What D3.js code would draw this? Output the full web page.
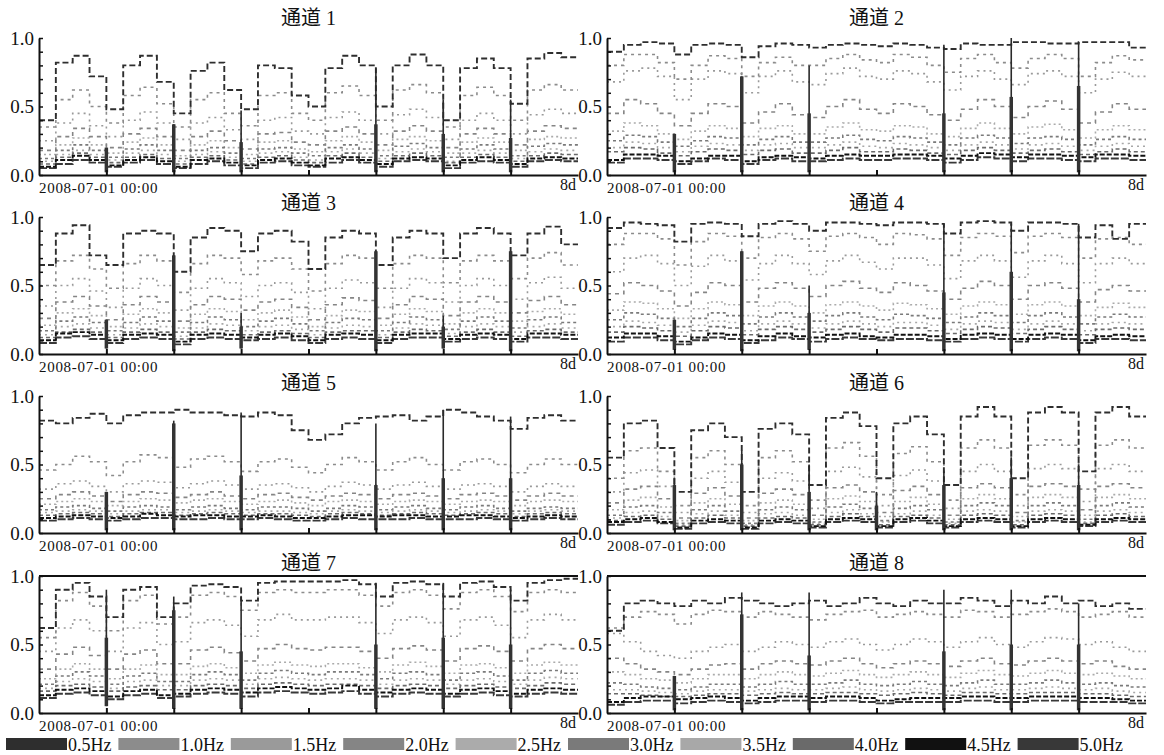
<!DOCTYPE html>
<html>
<head>
<meta charset="utf-8">
<script src="https://cdn.jsdelivr.net/npm/d3@7"></script>
<style>
  body { margin: 0; background: #fff; }
  svg text { font-family: "Liberation Serif", "Noto Sans CJK SC", serif; fill: #111; }
</style>
</head>
<body>
<svg id="chart" width="1164" height="755"></svg>
<script>
// --- data (values in hundredths, 4 samples per day, 8 days) ---
const days = 8
const perDay = 4
const freqs = ["0.5Hz", "1.0Hz", "1.5Hz", "2.0Hz", "2.5Hz", "3.0Hz", "3.5Hz", "4.0Hz", "4.5Hz", "5.0Hz"]
const titles = ["通道 1", "通道 2", "通道 3", "通道 4", "通道 5", "通道 6", "通道 7", "通道 8"]
const startLabel = "2008-07-01 00:00"
const endLabel = "8d"
const yTicks = [0, 0.1, 0.2, 0.3, 0.4, 0.5, 0.6, 0.7, 0.8, 0.9, 1.0]
const yLabels = [0, 0.5, 1.0]
const dayTicks = [1, 2, 3, 4, 5, 6, 7]

const ch1 = [
  [40,82,87,72, 48,80,87,68, 45,76,82,62, 48,80,78,58, 50,78,87,80, 50,80,88,80, 40,78,85,78, 52,85,89,86],
  [35,55,62,50, 38,58,64,52, 35,55,60,45, 36,58,60,45, 40,60,65,58, 40,62,66,60, 35,58,64,58, 40,62,66,62],
  [25,38,45,36, 28,40,46,38, 26,38,42,33, 26,40,42,32, 30,42,46,40, 30,44,48,42, 26,40,45,40, 30,44,48,45],
  [18,28,34,28, 20,30,34,28, 18,28,32,25, 19,30,31,24, 22,32,35,30, 22,32,36,32, 20,30,34,30, 22,32,36,34],
  [15,22,27,22, 16,24,27,22, 14,22,25,20, 15,24,25,19, 17,25,28,24, 18,26,28,25, 16,24,27,24, 18,26,28,27],
  [12,18,22,18, 13,19,22,18, 12,18,20,16, 12,19,20,16, 14,20,22,19, 14,21,23,20, 13,19,22,19, 14,21,23,22],
  [10,15,18,15, 11,16,18,15, 10,15,17,13, 10,16,17,13, 11,17,19,16, 12,17,19,17, 10,16,18,16, 12,17,19,18],
  [8,13,16,13, 9,13,15,12, 8,13,14,11, 8,13,14,11, 9,14,16,13, 10,14,16,14, 9,13,15,13, 10,14,16,15],
  [6,11,14,11, 7,11,13,10, 6,11,12,9, 7,11,12,9, 7,12,13,11, 8,12,13,12, 7,11,13,11, 8,12,13,12],
  [5,8,11,9, 6,9,11,8, 5,8,10,7, 5,9,10,7, 6,9,11,9, 6,10,11,10, 5,9,10,9, 6,10,11,10]
]
const ch2 = [
  [90,95,97,96, 88,95,96,95, 86,94,96,95, 93,95,96,95, 94,96,95,93, 92,96,95,95, 97,97,96,96, 97,97,97,93],
  [80,88,88,82, 70,80,87,85, 72,82,86,80, 80,85,88,84, 82,88,86,80, 75,85,88,82, 78,85,88,85, 72,82,87,84],
  [68,76,78,72, 55,70,76,74, 60,72,76,68, 66,74,78,72, 70,76,74,68, 62,72,76,70, 66,74,76,72, 60,70,75,72],
  [45,55,52,45, 36,45,52,50, 38,46,52,44, 42,50,55,48, 45,52,50,44, 40,48,55,50, 42,50,54,48, 38,46,52,48],
  [32,38,36,30, 26,32,36,34, 28,34,36,30, 30,35,38,33, 32,36,35,30, 28,34,38,34, 30,35,37,33, 27,33,36,33],
  [25,29,28,24, 21,25,28,27, 22,26,28,24, 24,27,29,26, 25,28,27,24, 22,27,29,27, 23,27,28,26, 22,26,28,26],
  [20,24,23,20, 17,21,23,22, 18,22,23,20, 20,22,24,21, 20,23,22,20, 18,22,24,22, 19,22,23,21, 18,21,23,21],
  [17,20,19,16, 14,17,19,18, 15,18,19,16, 16,18,20,17, 17,19,18,16, 15,18,20,18, 16,18,19,17, 15,17,19,17],
  [11,15,15,14, 10,12,14,14, 10,13,14,13, 12,14,15,14, 14,15,15,14, 12,14,16,15, 13,15,15,14, 13,15,15,14],
  [9,12,12,11, 8,10,12,11, 8,11,12,10, 10,11,12,11, 11,12,12,11, 9,11,13,12, 10,12,12,11, 10,12,12,11]
]
const ch3 = [
  [65,88,94,72, 65,88,90,88, 60,85,92,90, 75,88,90,82, 62,85,90,88, 65,85,90,88, 70,88,92,88, 72,88,93,80],
  [50,68,72,62, 48,66,72,68, 45,66,72,70, 58,68,70,62, 46,66,72,70, 48,66,72,70, 52,68,72,68, 55,70,74,65],
  [35,50,55,46, 34,48,55,50, 32,48,55,52, 42,50,52,45, 33,48,54,52, 34,48,55,52, 38,50,55,50, 40,52,56,48],
  [26,38,42,35, 25,36,42,38, 24,36,42,40, 32,38,40,34, 25,36,41,39, 26,36,42,40, 28,38,42,38, 30,39,42,36],
  [21,30,33,28, 20,29,33,30, 19,29,33,31, 25,30,32,27, 20,28,32,31, 21,29,33,31, 22,30,33,30, 24,31,33,29],
  [17,24,27,23, 17,23,27,24, 16,23,27,25, 20,24,26,22, 17,23,26,25, 17,23,27,25, 18,24,27,24, 19,25,27,23],
  [14,20,22,19, 14,19,22,20, 13,19,22,21, 17,20,21,18, 14,19,21,20, 14,19,22,21, 15,20,22,20, 16,20,22,19],
  [12,16,18,16, 12,16,18,16, 11,16,18,17, 14,16,17,15, 12,16,17,17, 12,16,18,17, 13,16,18,16, 13,17,18,16],
  [10,15,16,14, 10,14,15,14, 9,14,15,14, 12,14,15,13, 10,14,15,14, 10,14,15,15, 11,14,15,14, 11,15,15,14],
  [8,12,13,11, 8,11,12,11, 7,11,12,11, 10,11,12,10, 8,11,12,11, 8,11,12,12, 9,11,12,11, 9,12,12,11]
]
const ch4 = [
  [92,96,95,94, 82,95,96,95, 86,95,97,95, 90,96,96,95, 94,96,96,95, 88,96,97,96, 90,96,96,95, 85,94,84,95],
  [80,88,88,84, 65,82,88,86, 70,85,88,84, 75,86,88,85, 80,88,87,84, 72,85,88,86, 74,86,88,85, 70,84,85,80],
  [60,70,72,66, 50,64,72,68, 54,66,72,66, 58,68,72,67, 62,70,70,65, 55,68,72,68, 56,68,72,66, 52,66,70,66],
  [44,52,50,46, 35,45,52,50, 38,48,52,48, 42,50,53,48, 45,52,50,46, 40,48,53,50, 40,50,52,48, 38,47,50,46],
  [32,38,37,33, 26,33,38,36, 28,35,38,35, 30,36,38,35, 32,37,36,33, 29,35,38,36, 29,36,38,35, 28,34,37,34],
  [25,30,29,26, 20,26,30,28, 22,27,30,27, 24,28,30,27, 25,29,28,26, 23,27,30,28, 23,28,30,27, 22,27,29,27],
  [20,24,23,21, 16,21,24,23, 17,22,24,22, 19,22,24,22, 20,23,23,21, 18,22,24,23, 18,22,24,22, 17,22,23,22],
  [16,20,19,17, 13,17,20,19, 14,18,20,18, 16,18,20,18, 16,19,19,17, 15,18,20,19, 15,18,20,18, 14,18,19,18],
  [12,15,15,13, 9,12,15,14, 10,13,15,13, 12,14,15,13, 12,14,14,13, 11,14,15,14, 11,14,15,14, 10,13,14,13],
  [9,12,12,10, 7,10,12,11, 8,10,12,11, 9,11,12,11, 10,11,11,10, 9,11,12,11, 9,11,12,11, 8,11,11,10]
]
const ch5 = [
  [82,80,84,87, 80,86,88,88, 90,88,88,86, 85,88,86,75, 68,72,80,84, 85,86,82,85, 90,88,85,82, 76,84,86,82],
  [46,50,56,52, 42,52,57,55, 48,54,56,52, 45,52,54,48, 44,50,55,52, 46,52,55,50, 46,52,54,50, 44,50,54,50],
  [32,36,38,34, 30,36,38,37, 33,36,38,35, 32,35,36,33, 30,34,37,35, 32,35,37,34, 32,35,36,34, 30,34,36,34],
  [25,28,30,27, 23,28,30,29, 26,28,30,27, 25,28,29,26, 24,27,29,28, 25,28,29,27, 25,28,29,27, 24,27,29,27],
  [21,23,25,23, 20,23,25,24, 22,24,25,23, 21,23,24,22, 20,23,24,23, 21,23,24,23, 21,23,24,23, 20,23,24,23],
  [17,19,20,18, 16,19,20,19, 17,19,20,18, 17,19,19,18, 16,18,20,19, 17,19,20,18, 17,19,20,18, 16,18,19,18],
  [15,16,17,16, 14,16,17,17, 15,16,17,16, 15,16,16,15, 14,16,17,16, 15,16,17,16, 15,16,17,16, 14,16,17,16],
  [13,14,15,14, 12,14,15,15, 13,14,15,14, 13,14,14,13, 12,14,15,14, 13,14,15,14, 13,14,15,14, 12,14,15,14],
  [11,12,13,12, 11,12,14,13, 12,13,13,12, 12,13,12,11, 11,12,13,13, 12,13,13,12, 12,13,13,12, 11,12,13,12],
  [9,10,11,10, 9,10,11,11, 10,10,11,10, 10,11,10,9, 9,10,11,10, 10,10,11,10, 10,10,11,10, 9,10,11,10]
]
const ch6 = [
  [55,80,82,62, 30,75,80,70, 30,76,80,72, 35,84,88,78, 40,80,85,72, 35,85,92,85, 40,88,92,88, 45,88,92,85],
  [40,60,62,45, 20,55,60,50, 20,55,60,52, 24,62,66,56, 28,58,63,52, 24,62,68,62, 28,64,68,64, 32,64,68,62],
  [30,44,46,34, 15,40,45,37, 15,40,44,38, 18,45,48,41, 20,42,46,38, 18,45,50,45, 20,47,50,47, 23,47,50,45],
  [22,32,34,25, 11,29,33,27, 11,29,32,28, 13,33,35,30, 15,31,34,28, 13,33,36,33, 15,34,36,34, 17,34,36,33],
  [17,24,26,19, 9,22,25,21, 9,22,24,21, 10,25,27,23, 12,23,26,21, 10,25,28,25, 12,26,28,26, 13,26,28,25],
  [13,19,20,15, 7,17,20,16, 7,17,19,17, 8,19,21,18, 9,18,20,17, 8,20,22,20, 9,20,22,20, 10,20,22,19],
  [11,15,16,12, 6,14,16,13, 6,14,15,13, 7,15,17,14, 8,14,16,13, 7,16,17,16, 8,16,17,16, 8,16,17,15],
  [9,12,13,10, 5,11,13,11, 5,11,12,11, 6,12,14,12, 6,12,13,11, 6,13,14,13, 6,13,14,13, 7,13,14,12],
  [8,10,11,8, 4,9,10,9, 4,9,10,9, 5,10,11,10, 5,10,11,9, 5,10,11,10, 5,10,11,10, 6,10,11,10],
  [6,8,9,7, 3,7,8,7, 3,7,8,7, 4,8,9,8, 4,8,9,7, 4,8,9,8, 4,8,9,8, 5,8,9,8]
]
const ch7 = [
  [62,90,95,85, 70,90,92,70, 80,93,94,92, 82,95,96,96, 96,96,97,94, 85,95,96,94, 85,95,96,92, 82,95,97,98],
  [55,82,88,78, 60,82,86,65, 70,86,88,85, 75,88,90,88, 88,90,90,86, 78,88,90,86, 76,88,90,85, 74,88,90,88],
  [45,62,68,60, 45,62,66,50, 52,66,68,64, 56,68,72,68, 68,70,70,66, 58,68,70,66, 56,68,70,64, 55,68,72,68],
  [32,43,48,42, 32,43,46,36, 36,46,48,44, 38,47,50,47, 46,48,48,45, 40,47,49,46, 38,47,49,45, 38,47,50,47],
  [25,32,36,32, 25,32,35,28, 28,34,36,33, 29,35,37,35, 34,36,36,33, 30,35,37,34, 29,35,36,33, 29,35,37,35],
  [21,27,30,27, 21,27,29,23, 23,28,30,28, 24,29,31,29, 28,30,30,28, 25,29,30,28, 24,29,30,27, 24,29,31,29],
  [18,23,25,23, 18,23,24,20, 20,24,25,24, 21,25,26,25, 24,25,25,24, 21,24,25,24, 21,24,25,23, 21,24,26,25],
  [16,20,21,19, 16,19,20,17, 17,20,21,20, 18,21,22,21, 20,21,21,20, 18,20,21,20, 18,20,21,19, 18,20,22,21],
  [13,17,18,16, 12,16,17,13, 14,17,18,17, 15,18,19,18, 17,18,20,17, 15,17,18,17, 14,17,18,16, 14,17,18,17],
  [11,14,15,13, 10,13,14,11, 12,14,15,14, 12,15,16,15, 14,15,16,14, 12,14,15,14, 12,14,15,13, 12,14,15,14]
]
const ch8 = [
  [60,80,82,80, 78,82,80,84, 82,80,78,80, 82,78,80,84, 80,78,82,80, 80,84,82,78, 82,80,85,80, 82,78,80,76],
  [62,70,74,72, 65,72,75,74, 70,74,72,70, 68,72,74,75, 70,72,74,72, 70,75,74,70, 72,74,76,74, 70,72,74,70],
  [58,52,45,42, 40,45,48,50, 45,48,52,50, 48,52,54,50, 46,50,54,52, 48,52,55,50, 48,52,55,54, 50,52,48,45],
  [40,36,32,30, 28,32,35,36, 32,36,38,36, 35,38,40,36, 33,36,38,36, 34,38,40,36, 35,38,40,38, 36,38,34,32],
  [30,28,25,24, 22,25,28,28, 25,28,30,28, 27,29,31,28, 26,28,30,28, 26,29,31,28, 27,29,31,29, 28,29,27,25],
  [22,21,19,18, 17,19,21,21, 19,21,23,21, 21,22,24,21, 20,21,23,21, 20,22,24,21, 21,22,24,22, 21,22,20,19],
  [17,17,16,15, 14,16,17,17, 16,17,18,17, 17,18,19,17, 16,17,18,17, 16,18,19,17, 17,18,19,18, 17,18,16,15],
  [14,14,13,12, 12,13,14,14, 13,14,15,14, 14,15,15,14, 13,14,15,14, 13,15,15,14, 14,15,15,15, 14,14,13,12],
  [8,11,12,12, 10,11,12,11, 9,11,12,12, 11,12,12,11, 9,10,11,11, 11,12,12,11, 11,12,12,12, 11,11,10,9],
  [6,8,9,9, 7,8,9,8, 7,8,9,9, 8,9,9,8, 7,8,8,8, 8,9,9,8, 8,9,9,9, 8,8,8,7]
]

// calibration spikes: [day, low, high, top of heavy part] in hundredths
const spikes1 = [[1,2,20,20], [2,2,37,37], [3,2,47,24], [5,2,78,37], [6,2,55,30], [7,2,55,27]]
const spikes2 = [[1,2,30,30], [2,2,72,72], [3,2,80,45], [5,2,95,45], [6,2,100,57], [7,2,97,65]]
const spikes3 = [[1,4,25,25], [2,2,72,72], [3,4,30,20], [5,2,75,75], [6,4,28,20], [7,2,75,75]]
const spikes4 = [[1,3,25,25], [2,2,75,75], [3,3,50,30], [5,2,95,45], [6,2,95,60], [7,2,95,40]]
const spikes5 = [[1,2,30,30], [2,2,82,80], [3,2,88,42], [5,2,80,35], [6,2,90,40], [7,2,85,40]]
const spikes6 = [[1,2,40,35], [2,2,60,50], [3,2,50,30], [4,2,30,20], [5,2,45,35], [6,2,55,40], [7,2,50,35]]
const spikes7 = [[1,5,90,55], [2,3,85,75], [3,3,85,45], [5,3,95,50], [6,3,95,55], [7,3,90,50]]
const spikes8 = [[1,2,27,27], [2,2,88,72], [3,2,88,42], [5,2,90,45], [6,2,90,50], [7,2,80,50]]

// channels whose trace sits on the 1.0 line
const saturated = [7, 8]

const channels = [ch1, ch2, ch3, ch4, ch5, ch6, ch7, ch8]
const spikes = [spikes1, spikes2, spikes3, spikes4, spikes5, spikes6, spikes7, spikes8]

// --- styles ---
const colors = ["#2e2e2e", "#8c8c8c", "#9a9a9a", "#858585", "#ababab", "#7a7a7a", "#a8a8a8", "#6a6a6a", "#111111", "#383838"]
const dashes = ["6,3", "3,4", "2,4", "4,4", "2,3", "3,3", "2,4", "4,3", "5,2", "8,2"]

// --- layout ---
const colX = [39, 607]
const rowY = [38, 217, 396, 576]
const titleY = [25, 210, 390, 570]
const plotW = 539
const plotH = 137

const svg = d3.select("#chart")

const x = d3.scaleLinear().domain([0, days]).range([0, plotW])
const y = d3.scaleLinear().domain([0, 1]).range([plotH, 0])

const line = d3.line()
  .x((d, i) => x(i / perDay))
  .y(d => y(d / 100))
  .curve(d3.curveStepAfter)

channels.forEach((ch, k) => {
  const col = k % 2
  const row = Math.floor(k / 2)
  const g = svg.append("g")
    .attr("transform", `translate(${colX[col]},${rowY[row]})`)

  // title
  svg.append("text")
    .attr("x", colX[col] + plotW / 2)
    .attr("y", titleY[row])
    .attr("text-anchor", "middle")
    .style("font-size", "20px")
    .text(titles[k])

  // series, lightest first so dark ones sit on top
  const order = d3.range(ch.length).sort((a, b) => d3.descending(d3.hsl(colors[a]).l, d3.hsl(colors[b]).l))
  g.selectAll(".series")
    .data(order)
    .enter().append("path")
    .attr("class", "series")
    .attr("d", i => line(ch[i].concat([ch[i][ch[i].length - 1]])))
    .attr("fill", "none")
    .attr("stroke", i => colors[i])
    .attr("stroke-width", i => d3.hsl(colors[i]).l < 0.3 ? 1.9 : 1.6)
    .attr("stroke-dasharray", i => dashes[i])

  if (saturated.includes(k + 1)) {
    g.append("line")
      .attr("x1", x(0)).attr("x2", x(days))
      .attr("y1", y(1)).attr("y2", y(1))
      .attr("stroke", "#111")
      .attr("stroke-width", 2)
  }

  // spikes
  const sp = g.selectAll(".spike").data(spikes[k]).enter()
  sp.append("line")
    .attr("x1", d => x(d[0])).attr("x2", d => x(d[0]))
    .attr("y1", d => y(d[1] / 100)).attr("y2", d => y(d[2] / 100))
    .attr("stroke", "#2a2a2a")
    .attr("stroke-width", 1.6)
  sp.append("line")
    .attr("x1", d => x(d[0])).attr("x2", d => x(d[0]))
    .attr("y1", d => y(d[1] / 100)).attr("y2", d => y(d[3] / 100))
    .attr("stroke", "#333")
    .attr("stroke-width", 3.5)

  // axes
  const xAxis = g.append("g")
    .attr("transform", `translate(0,${plotH})`)
    .call(d3.axisBottom(x).tickValues(dayTicks).tickSize(-5).tickSizeOuter(0).tickFormat(""))
  xAxis.select(".domain").attr("stroke", "#111").attr("stroke-width", 2)
  xAxis.selectAll(".tick line").attr("stroke", "#111").attr("stroke-width", 2)

  const yAxis = g.append("g")
    .call(d3.axisLeft(y).tickValues(yTicks).tickSize(-4).tickSizeOuter(0).tickPadding(5)
      .tickFormat(v => yLabels.some(l => Math.abs(l - v) < 1e-9) ? d3.format(".1f")(v) : ""))
  yAxis.select(".domain").attr("stroke", "#111").attr("stroke-width", 2)
  yAxis.selectAll(".tick line").attr("stroke", "#111").attr("stroke-width", 1.5)
  yAxis.selectAll(".tick text")
    .attr("fill", "#111")
    .style("font-family", "'Liberation Serif', serif")
    .style("font-size", "19px")

  // time labels
  g.append("text")
    .attr("x", 0)
    .attr("y", plotH + 18)
    .style("font-size", "15px")
    .style("letter-spacing", "0.7px")
    .text(startLabel)
  g.append("text")
    .attr("x", plotW - 2)
    .attr("y", plotH + 15)
    .attr("text-anchor", "end")
    .style("font-size", "16px")
    .text(endLabel)
})

// legend
const legend = svg.append("g").attr("transform", "translate(0,738)")
const item = legend.selectAll(".item")
  .data(freqs)
  .enter().append("g")
  .attr("class", "item")
  .attr("transform", (d, i) => `translate(${68 + i * 112.4},0)`)
item.append("rect")
  .attr("x", -62)
  .attr("width", 61)
  .attr("height", 12)
  .attr("fill", (d, i) => colors[i])
item.append("text")
  .attr("x", 0)
  .attr("y", 12.5)
  .style("font-size", "18px")
  .text(d => d)
</script>
</body>
</html>
